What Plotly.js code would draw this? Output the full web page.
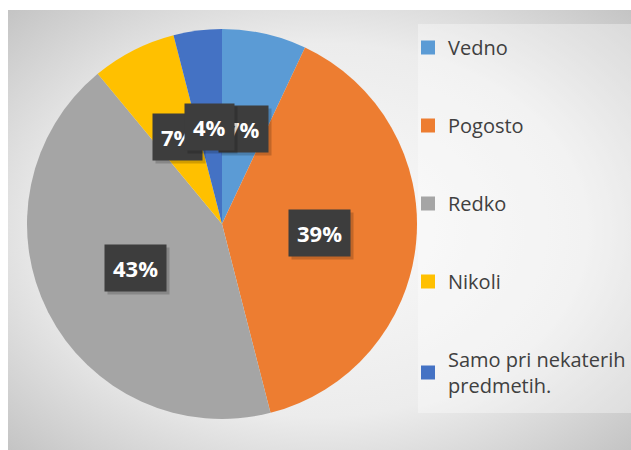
<!DOCTYPE html>
<html>
<head>
<meta charset="utf-8">
<script src="https://cdn.plot.ly/plotly-3.0.1.min.js"></script>
<style>
    body { margin: 0; background: #ffffff; }
    #bg {
        position: absolute; left: 8px; top: 10px; width: 623px; height: 440px;
        background: radial-gradient(ellipse farthest-corner at 50% 50%, #fafafa 0%, #ececec 60%, #c4c4c4 100%);
    }
    #chart { position: absolute; left: 0; top: 0; width: 631px; height: 450px; }
</style>
</head>
<body>
<div id="bg"></div>
<div id="chart"></div>
<script>
const categories = ['Vedno', 'Pogosto', 'Redko', 'Nikoli', 'Samo pri nekaterih<br>predmetih.'];
const shares = [7, 39, 43, 7, 4];
const sliceColors = ['#5B9BD5', '#ED7D31', '#A5A5A5', '#FFC000', '#4472C4'];

const W = 631, H = 450;
// pie domain in pixels (from the left / from the top)
const pieLeft = 27, pieRight = 417, pieTop = 29, pieBottom = 419;
const cx = (pieLeft + pieRight) / 2, cy = (pieTop + pieBottom) / 2;
const R = (pieRight - pieLeft) / 2;
const labelRatio = 0.5;

const pie = {
    type: 'pie',
    values: shares,
    labels: categories,
    sort: false,
    direction: 'clockwise',
    rotation: 0,
    textinfo: 'none',
    hoverinfo: 'label+percent',
    showlegend: false,
    marker: { colors: sliceColors, line: { width: 0 } },
    domain: {
        x: [pieLeft / W, pieRight / W],
        y: [(H - pieBottom) / H, (H - pieTop) / H]
    }
};

// legend entries
const legendTraces = categories.map((name, i) => ({
    type: 'scatter',
    mode: 'markers',
    x: [null],
    y: [null],
    name: name,
    legendgroup: 'g' + i,
    marker: { symbol: 'square', size: 14, color: sliceColors[i] },
    hoverinfo: 'skip'
}));

// percent labels placed at half radius of each slice
const total = shares.reduce((a, b) => a + b, 0);
const annotations = [];
let cum = 0;
shares.forEach(v => {
    const mid = (cum + v / 2) / total;
    cum += v;
    const theta = 2 * Math.PI * mid;
    const px = cx + labelRatio * R * Math.sin(theta);
    const py = cy - labelRatio * R * Math.cos(theta);
    const txt = Math.round(v / total * 100) + '%';
    const base = {
        x: px / W,
        y: (H - py) / H,
        xref: 'paper',
        yref: 'paper',
        xanchor: 'center',
        yanchor: 'middle',
        text: '<b>' + txt + '</b>',
        showarrow: false,
        borderpad: 8,
        font: { family: 'Open Sans, sans-serif', size: 22, color: '#ffffff' }
    };
    annotations.push(Object.assign({}, base, {
        bgcolor: 'rgba(0,0,0,0.18)',
        font: { family: 'Open Sans, sans-serif', size: 22, color: 'rgba(0,0,0,0)' },
        xshift: 3,
        yshift: -3
    }));
    annotations.push(Object.assign({}, base, { bgcolor: '#3d3d3d' }));
});

const layout = {
    width: W,
    height: H,
    margin: { l: 0, r: 0, t: 0, b: 0 },
    paper_bgcolor: 'rgba(0,0,0,0)',
    plot_bgcolor: 'rgba(0,0,0,0)',
    xaxis: { visible: false },
    yaxis: { visible: false },
    showlegend: true,
    legend: {
        x: 1,
        y: (H - 28) / H,
        xanchor: 'right',
        yanchor: 'top',
        bgcolor: 'rgba(0,0,0,0)',
        borderwidth: 0,
        tracegroupgap: 49,
        font: { family: 'Open Sans, sans-serif', size: 20, color: '#404040' }
    },
    // lighter legend panel
    shapes: [{
        type: 'rect',
        xref: 'paper', yref: 'paper',
        x0: 418 / W, x1: 1,
        y0: (H - 413) / H, y1: (H - 24) / H,
        fillcolor: 'rgba(255,255,255,0.35)',
        line: { width: 0 },
        layer: 'below'
    }],
    annotations: annotations
};

Plotly.newPlot('chart', [pie].concat(legendTraces), layout, { displayModeBar: false, staticPlot: true });
</script>
</body>
</html>
